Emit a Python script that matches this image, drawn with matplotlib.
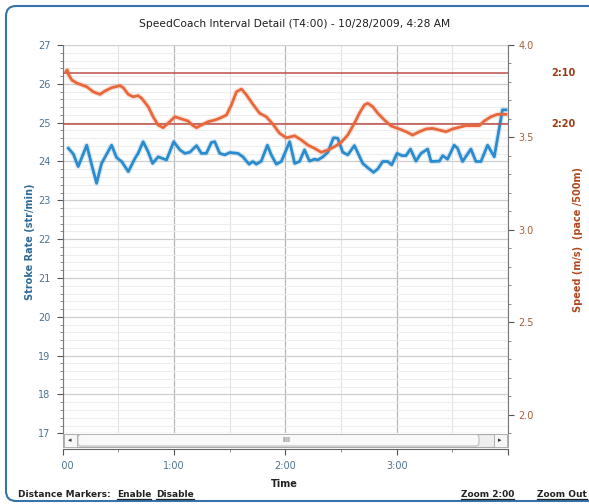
import matplotlib
matplotlib.use("Agg")
import matplotlib.pyplot as plt
import matplotlib.transforms as mtransforms
from matplotlib.patches import FancyBboxPatch, Rectangle
from matplotlib.ticker import MultipleLocator

# stroke rate (str/min) vs time (s)
t_rate = [3.0, 5.7, 8.3, 12.9, 15.6, 18.2, 20.9, 26.3, 29.0, 31.7, 35.3, 38.9, 40.6,
          43.3, 46.0, 48.4, 51.4, 55.9, 59.8, 63.1, 65.8, 68.5, 72.1, 74.7, 77.4,
          80.1, 81.9, 84.6, 87.3, 90.0, 94.4, 97.1, 100.4, 102.5, 104.3, 107.0,
          110.3, 112.4, 115.1, 117.8, 122.3, 125.0, 127.6, 130.3, 133.0, 135.7,
          137.5, 140.2, 142.9, 145.9, 148.2, 150.9, 153.6, 157.2, 161.7, 164.9,
          167.5, 169.8, 172.5, 175.2, 177.3, 180.2, 182.9, 185.0, 187.4, 190.4,
          193.1, 196.7, 198.5, 203.0, 204.8, 207.4, 211.0, 212.8, 215.5, 220.0,
          222.7, 225.4, 229.0, 232.6, 237.0, 238.9]
stroke_rate = [24.34, 24.19, 23.87, 24.42, 23.91, 23.44, 23.95, 24.42, 24.10, 24.00,
               23.74, 24.08, 24.21, 24.51, 24.25, 23.95, 24.12, 24.04, 24.51, 24.30,
               24.21, 24.24, 24.41, 24.21, 24.21, 24.49, 24.51, 24.21, 24.17, 24.23,
               24.21, 24.12, 23.93, 24.00, 23.93, 24.01, 24.42, 24.17, 23.93, 24.00,
               24.51, 23.95, 24.00, 24.30, 24.01, 24.06, 24.04, 24.12, 24.24, 24.61,
               24.60, 24.24, 24.17, 24.41, 23.95, 23.82, 23.72, 23.81, 24.00, 24.00,
               23.91, 24.21, 24.15, 24.15, 24.32, 24.01, 24.21, 24.32, 24.00, 24.01,
               24.15, 24.06, 24.42, 24.34, 24.00, 24.32, 24.00, 24.00, 24.42, 24.12,
               25.33, 25.33]

# speed (m/s) vs time (s)
t_speed = [1.8, 2.4, 3.0, 4.8, 7.5, 10.2, 12.9, 16.4, 20.0, 22.7, 26.3, 30.8, 32.6,
           35.3, 37.9, 40.6, 42.5, 46.0, 48.7, 51.4, 54.1, 56.8, 60.4, 64.0, 67.5,
           70.2, 72.1, 74.7, 78.3, 81.9, 84.6, 88.2, 90.9, 93.6, 96.3, 99.0, 102.5,
           106.1, 109.7, 113.3, 116.9, 120.5, 125.0, 128.6, 132.1, 135.7, 139.3,
           142.9, 146.5, 150.1, 153.6, 157.2, 159.9, 162.6, 164.4, 167.1, 169.8,
           173.4, 177.0, 181.4, 185.1, 188.6, 192.2, 195.8, 199.4, 203.0, 206.6,
           210.1, 213.7, 217.3, 220.9, 224.5, 227.2, 230.8, 234.3, 238.9]
speed = [3.858, 3.865, 3.842, 3.811, 3.794, 3.784, 3.774, 3.747, 3.733, 3.751, 3.769,
         3.780, 3.769, 3.733, 3.720, 3.726, 3.712, 3.667, 3.612, 3.567, 3.553, 3.577,
         3.612, 3.600, 3.589, 3.564, 3.553, 3.567, 3.585, 3.594, 3.604, 3.621, 3.676,
         3.747, 3.762, 3.730, 3.679, 3.631, 3.612, 3.571, 3.522, 3.498, 3.509, 3.486,
         3.459, 3.441, 3.420, 3.432, 3.450, 3.474, 3.513, 3.577, 3.631, 3.676, 3.685,
         3.666, 3.631, 3.594, 3.562, 3.546, 3.531, 3.513, 3.531, 3.546, 3.549, 3.540,
         3.531, 3.546, 3.555, 3.564, 3.564, 3.564, 3.589, 3.612, 3.625, 3.625]

pace_speeds = [500 / 130, 500 / 140]
pace_labels = ["2:10", "2:20"]
x_ticks = [0, 60, 120, 180, 240]
x_labels = ["0:00", "1:00", "2:00", "3:00", ""]

W, H = 589, 504
fig = plt.figure(figsize=(W / 100, H / 100), dpi=100)
# pixel coords, origin top-left
px = mtransforms.Affine2D().scale(1, -1).translate(0, H).scale(1 / W, 1 / H) + fig.transFigure

L, R, T, B = 62.8, 508, 45, 433.3
ax = fig.add_axes([L / W, (H - B) / H, (R - L) / W, (B - T) / H])
ax2 = ax.twinx()

blue = "#2b8bcc"
orange = "#e8683c"
rate_col = "#4d7390"
speed_col = "#a5603a"

ax.plot(t_rate, stroke_rate, color=blue, lw=3.8, alpha=0.18, solid_capstyle="round")
ax.plot(t_rate, stroke_rate, color=blue, lw=2.0, solid_joinstyle="round", zorder=3)
ax2.plot(t_speed, speed, color=orange, lw=3.8, alpha=0.18, solid_capstyle="round")
ax2.plot(t_speed, speed, color=orange, lw=2.0, solid_joinstyle="round", zorder=3)
for v in pace_speeds:
    ax2.axhline(v, color="#bf4f4a", lw=1.1, zorder=2)

ax.set_xlim(0, 240)
ax.set_ylim(17, 27)
ax2.set_ylim(1.9, 4.0)

# grid
ax.set_axisbelow(True)
ax.yaxis.set_major_locator(MultipleLocator(1))
ax.yaxis.set_minor_locator(MultipleLocator(0.2))
ax.set_xticks(x_ticks, x_labels)
ax.xaxis.set_minor_locator(MultipleLocator(30))
ax.grid(which="major", axis="y", color="#cfcfcf", lw=0.9)
ax.grid(which="minor", axis="y", color="#eeeeee", lw=0.8)
ax.grid(which="major", axis="x", color="#b8b8b8", lw=0.9)
ax.grid(which="minor", axis="x", color="#e2e2e2", lw=0.8)

ax2.yaxis.set_major_locator(MultipleLocator(0.5))
ax2.yaxis.set_minor_locator(MultipleLocator(0.1))
ax2.set_yticks([2.0, 2.5, 3.0, 3.5, 4.0], ["2.0", "2.5", "3.0", "3.5", "4.0"])

for s in ["top", "right"]:
    ax.spines[s].set_visible(False)
for s in ["top", "left", "bottom"]:
    ax2.spines[s].set_visible(False)
ax.spines["left"].set_color("#777777")
ax2.spines["right"].set_color("#777777")
ax.spines["bottom"].set_color("#666666")
ax.spines["bottom"].set_position(("outward", 11.3))

ax.tick_params(axis="y", which="major", length=4, color="#555555", labelsize=7,
               labelcolor=rate_col, pad=5)
ax.tick_params(axis="y", which="minor", length=2, color="#777777")
ax.tick_params(axis="x", which="major", length=4, color="#555555", labelsize=7,
               labelcolor=rate_col, pad=5)
ax.tick_params(axis="x", which="minor", length=2.5, color="#777777")
ax2.tick_params(axis="y", which="major", length=4.5, color="#555555", labelsize=7,
                labelcolor=speed_col, pad=3)
ax2.tick_params(axis="y", which="minor", length=2.5, color="#777777")

# outer frame
fig.add_artist(FancyBboxPatch((6, 6), 620, 495, boxstyle="round,pad=0,rounding_size=10",
                              transform=px, facecolor="none", edgecolor="#3573ad", lw=1.5))

# scrollbar
fig.add_artist(Rectangle((63, 433.5), 445, 13.5, transform=px, facecolor="#eeeeee",
                         edgecolor="#a8a8a8", lw=0.8))
fig.add_artist(Rectangle((63.5, 434), 13, 12.5, transform=px, facecolor="#f6f6f6",
                         edgecolor="#b0b0b0", lw=0.7))
fig.add_artist(FancyBboxPatch((78, 434.5), 401, 11.5, boxstyle="round,pad=0,rounding_size=3",
                              transform=px, facecolor="#f9f9f9", edgecolor="#b5b5b5", lw=0.7))
fig.add_artist(Rectangle((493.5, 434), 13.5, 12.5, transform=px, facecolor="#f6f6f6",
                         edgecolor="#b0b0b0", lw=0.7))
fig.text(70, 440.5, "\u25c2", transform=px, fontsize=5, ha="center", va="center", color="#333333")
fig.text(500, 440.5, "\u25b8", transform=px, fontsize=5, ha="center", va="center", color="#333333")
fig.text(286, 440.5, "IIII", transform=px, fontsize=5, ha="center", va="center", color="#555555")

# texts
fig.text(295, 24, "SpeedCoach Interval Detail (T4:00) - 10/28/2009, 4:28 AM", transform=px,
         ha="center", va="center", fontsize=7.7, color="#1e1e1e")
fig.text(30, 242, "Stroke Rate (str/min)", transform=px, rotation=90, ha="center",
         va="center", fontsize=7, fontweight="bold", color="#2f6b98")
fig.text(578, 240, "Speed (m/s)  (pace /500m)", transform=px, rotation=90, ha="center",
         va="center", fontsize=7, fontweight="bold", color="#b0481e")
for v, lab in zip(pace_speeds, pace_labels):
    ax2.annotate(lab, xy=(1, v), xycoords=("axes fraction", "data"), xytext=(31, 0),
                 textcoords="offset points", ha="left", va="center", fontsize=7,
                 fontweight="bold", color="#9c3b16")
fig.text(284, 484, "Time", transform=px, ha="center", va="center", fontsize=7,
         fontweight="bold", color="#222222")

base_y = 497
fig.text(18, base_y, "Distance Markers:", transform=px, ha="left", va="baseline",
         fontsize=6.5, fontweight="bold", color="#222222")
for x0, s in [(117, "Enable"), (156, "Disable"), (461, "Zoom 2:00"), (537, "Zoom Out")]:
    tx = fig.text(x0, base_y, s, transform=px, ha="left", va="baseline", fontsize=6.5,
                  fontweight="bold", color="#222222")
    fig.canvas.draw()
    bb = tx.get_window_extent(fig.canvas.get_renderer())
    fig.add_artist(plt.Line2D([bb.x0, bb.x1], [base_y + 1.5, base_y + 1.5], transform=px,
                              color="#222222", lw=0.9))

# first time label is cut off at the chart's left edge
fig.canvas.draw()
clip = Rectangle((61.5, 0), 600, H, transform=px)
first = ax.get_xticklabels()[0]
first.set_clip_on(True)
first.set_clip_path(clip)

fig.savefig("out.png", dpi=100)
